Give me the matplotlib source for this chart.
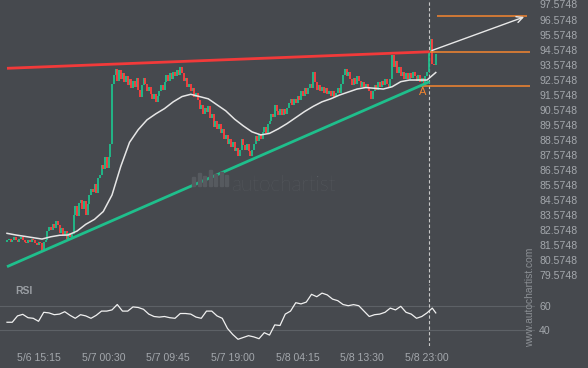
import numpy as np
import matplotlib
matplotlib.use('Agg')
import matplotlib.pyplot as plt
from matplotlib.patches import Rectangle

# ---- data (15 minute bars) ----
closes = [
    81.9, 82.0, 81.8, 81.9, 82.1, 81.9, 81.8, 82.0, 82.1, 81.9, 81.8, 81.7, 81.9, 81.8, 82.0, 81.9, 81.7, 81.6, 81.8, 81.7,
    81.2, 81.8, 81.9, 82.5, 82.8, 82.6, 83.0, 82.7, 83.2, 82.9, 82.4, 82.7, 82.2, 82.5, 82.0, 82.4, 82.1, 82.3,
    83.6, 84.2, 83.5, 84.4, 84.6, 84.0, 84.5, 83.6, 84.3, 84.9, 85.3, 85.1, 85.6, 85.0, 86.0, 86.2, 86.9, 86.6, 87.4, 86.7, 87.4, 88.3,
    92.3, 92.9, 93.3, 92.5, 93.2, 92.6, 93.0, 92.4, 92.8,
    92.2, 92.6, 92.0, 92.5, 92.1, 92.7, 91.9, 91.4, 92.2,
    92.7, 92.3, 91.8, 92.1, 91.6, 91.3, 91.6, 91.1, 91.5,
    91.8, 92.2, 91.9, 92.4, 92.9, 92.5, 93.0, 92.6, 93.1, 92.8, 93.2, 92.9, 93.4, 93.0,
    92.5, 92.7, 92.1, 92.3, 91.8, 92.0, 91.4, 91.7,
    91.2, 90.6, 90.9, 90.3, 90.7, 90.4, 90.8, 90.0, 90.3, 89.4,
    89.8, 89.3, 89.6, 89.0, 89.3, 88.6, 88.9, 88.3,
    88.6, 88.1, 88.4, 87.8, 88.0, 87.5, 87.9,
    88.6, 88.2, 87.9, 88.3, 87.8, 87.5, 87.9, 88.3, 88.8,
    88.5, 88.9, 88.6, 89.1, 89.4, 89.0, 89.6,
    89.8, 90.3, 90.1, 90.9, 90.5, 90.2, 90.6,
    90.2, 90.6, 90.3, 90.7, 91.0, 91.3, 90.9,
    91.3, 91.0, 91.5, 91.2, 91.8, 91.5, 92.0,
    91.6, 92.0, 92.3, 92.0, 93.1, 92.4,
    91.9, 92.2, 91.8, 92.1, 91.7, 92.0, 91.6,
    91.8, 91.5, 91.8, 91.4, 91.7, 92.0, 91.7,
    92.3, 92.9, 93.3, 92.8, 93.1, 92.6,
    92.2, 92.7, 92.3, 92.8, 92.5, 92.1, 92.4, 92.0, 92.3, 92.1, 91.8, 91.3,
    91.8, 92.2, 91.9, 92.4, 92.1, 92.5, 92.2, 92.6, 92.3, 92.0,
    92.6, 94.2, 93.4, 93.8, 93.0, 93.4, 92.8, 93.1, 92.6,
    93.0, 92.6, 93.0, 92.7, 93.1, 92.8, 92.5, 92.9, 92.4,
    92.7, 92.3, 92.8, 93.1,
    94.4, 95.3, 93.6, 93.55, 94.3,
]

# moving average, one reading every 5 bars
ma_vals = [82.35, 82.24, 82.15, 82.06, 81.97, 82.12, 82.22, 82.24, 82.5, 82.95,
           83.28, 83.8, 84.9, 86.8, 88.4, 89.25, 89.9, 90.3, 90.65, 91.1,
           91.45, 91.6, 91.45, 91.3, 90.9, 90.5, 89.95, 89.5, 89.1, 88.9,
           89.0, 89.3, 89.65, 90.05, 90.45, 90.8, 91.1, 91.3, 91.55, 91.75,
           91.95, 92.05, 92.0, 91.95, 92.1, 92.44, 92.55, 92.55, 92.55, 93.05]

# RSI, one reading every 3 bars plus the last bar
rsi_vals = [46.7, 46.7, 52, 53.3, 50.5, 50, 47.5, 55, 54.5, 53, 53.5, 55.5, 52.5, 50,
            53, 52, 50, 52.5, 56, 56, 57, 61.5, 56, 56, 59.5, 59, 57.5, 53.5, 51.5,
            51, 51.5, 50.5, 50, 54, 54, 53.5, 51, 50, 56, 56, 52, 50, 41.5, 36.5,
            32.5, 34, 35.5, 34.5, 33, 38, 36, 44.5, 44, 53.5, 56, 63, 62, 63.5, 70,
            68, 71, 69.5, 66, 64.7, 61.5, 60.5, 61.4, 60.5, 56, 51.5, 53, 53.5, 55,
            58.5, 57, 60, 55, 53.5, 50, 51.5, 54.5, 58.5, 54.5]

time_labels = ['5/6 15:15', '5/7 00:30', '5/7 09:45', '5/7 19:00',
               '5/8 04:15', '5/8 13:30', '5/8 23:00']
label_bars = [18, 55, 92, 129, 166, 203, 240]
price_ticks = [79.5748 + k for k in range(19)]
rsi_ticks = [40, 60]

# pattern (bar index, price)
resist_bars, resist_px = [0, 241.5], [93.33, 94.43]
support_bars, support_px = [0, 241.5], [80.13, 92.44]
breakout_bar = 241.3
target_bar, target_px = 297, 96.81
level_entry, level_a = 94.43, 92.15
point_a_bar, point_a_px = 237.7, 91.75

BG = '#46494e'
TXT = '#a3a7ac'
GREEN = '#1fbf8c'
RED = '#ff3e3e'
ORANGE = '#f5862f'

plt.rcParams['font.family'] = ['Liberation Sans', 'DejaVu Sans']

fig = plt.figure(figsize=(5.88, 3.68), dpi=100, facecolor=BG)
W, H = 588.0, 368.0
ax = fig.add_axes([0, 1 - 283 / H, 535 / W, 283 / H], facecolor=BG)
ax_r = fig.add_axes([0, 1 - 346 / H, 535 / W, 62 / H], facecolor=BG)

xlim = (-4.0, 301.7)

# candles: open = previous close
c = np.array(closes)
o = np.r_[c[0] - 0.1, c[:-1]]
x = np.arange(len(c))
cols = [GREEN if cc >= oo else RED for oo, cc in zip(o, c)]
ax.vlines(x, np.minimum(o, c), np.maximum(o, c), colors=cols, lw=1.3, zorder=3)

ma_x = np.arange(0, 5 * len(ma_vals), 5)
ax.plot(ma_x, ma_vals, color='#e6e6e6', lw=1.1, zorder=4)

# trend lines
ax.plot(resist_bars, resist_px, color='#f23a3a', lw=2.0, solid_capstyle='butt', zorder=5)
ax.plot(support_bars, support_px, color='#1fbf8c', lw=2.0, solid_capstyle='butt', zorder=5)

# levels
ax.hlines(target_px, 245.7, target_bar, color=ORANGE, lw=1.1, zorder=4)
ax.hlines(level_entry, 241.7, 299, color=ORANGE, lw=1.1, zorder=4)
ax.hlines(level_a, 236, 299, color=ORANGE, lw=1.1, zorder=4)
ax.text(point_a_bar, point_a_px, 'A', color=ORANGE, fontsize=8, ha='center', va='center', zorder=6)

ax.annotate('', xy=(target_bar, target_px), xytext=(breakout_bar, level_entry + 0.02),
            arrowprops=dict(arrowstyle='->', color='#e8e8e8', lw=1.0, mutation_scale=11),
            zorder=6)

for a in (ax, ax_r):
    a.axvline(breakout_bar, color='#c9c9c9', lw=0.8, ls=(0, (3, 2)), zorder=2)
    a.set_xlim(*xlim)
    for s in a.spines.values():
        s.set_visible(False)

ax.set_ylim(79.045, 97.874)
ax.set_yticks(price_ticks)
ax.set_yticklabels(['%.4f' % v for v in price_ticks])
ax.yaxis.tick_right()
ax.tick_params(axis='y', length=0, pad=3, labelsize=7.6, labelcolor=TXT)
ax.set_xticks([])

# RSI panel
rsi_x = list(range(0, 3 * (len(rsi_vals) - 1), 3)) + [len(c) - 1]
ax_r.plot(rsi_x, rsi_vals, color='#f0f0f0', lw=0.9, zorder=3)
ax_r.set_ylim(26.9, 78.6)
ax_r.set_yticks(rsi_ticks)
ax_r.yaxis.tick_right()
ax_r.tick_params(axis='y', length=0, pad=3, labelsize=7.6, labelcolor=TXT)
ax_r.grid(axis='y', color='#5d6166', lw=0.8)
ax_r.set_xticks(label_bars)
ax_r.set_xticklabels(time_labels)
ax_r.tick_params(axis='x', length=0, pad=5, labelsize=7.6, labelcolor=TXT)
fig.text(15 / W, 1 - 291.5 / H, 'RSI', color='#9a9ea3', fontsize=7.5,
         fontweight='bold', ha='left', va='center')

# watermarks
fig.text(284 / W, 1 - 185 / H, 'autochartist', color='#5f6368', fontsize=15,
         family=['Lato', 'DejaVu Sans'], fontweight='light', ha='center', va='center')
bar_h = [9, 13, 10, 16, 12, 14, 11]
for k, h in enumerate(bar_h):
    fig.patches.append(Rectangle(((192 + 5.5 * k) / W, 1 - 186 / H), 3 / W, h / H,
                                 transform=fig.transFigure, color='#565a5f', zorder=0))
fig.text(530 / W, 1 - 297 / H, 'www.autochartist.com', color='#8b8f94', fontsize=7.4,
         rotation=90, ha='center', va='center')

fig.savefig('out.png', dpi=100, facecolor=BG)
